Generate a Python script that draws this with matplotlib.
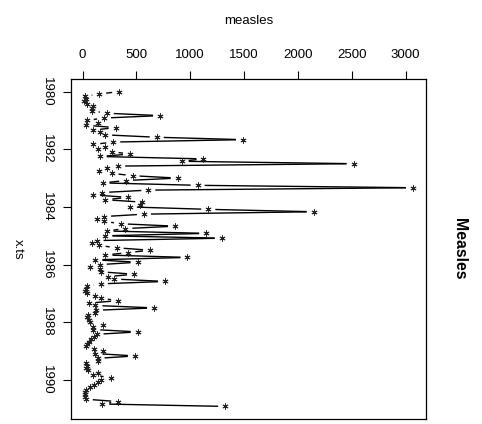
import matplotlib
matplotlib.use('Agg')
import numpy as np
import matplotlib.pyplot as plt

# monthly measles counts, Jan 1980 .. Dec 1990
measles = [
    340, 155, 20, 30, 15, 45, 100, 90, 85, 225, 720, 200,
    40, 145, 35, 307, 100, 160, 210, 689, 1490, 285, 100, 205,
    145, 270, 440, 160, 1123, 921, 2517, 331, 223, 155, 270, 465,
    883, 405, 186, 1069, 3068, 611, 183, 99, 424, 213, 555, 530,
    440, 1168, 2147, 570, 200, 130, 201, 356, 859, 398, 223, 1148,
    213, 1293, 130, 84, 150, 317, 626, 425, 213, 974, 120, 511,
    160, 68, 160, 170, 478, 232, 294, 766, 170, 40, 30, 25,
    40, 120, 170, 330, 60, 120, 664, 125, 120, 50, 40, 60,
    70, 190, 100, 100, 512, 130, 110, 80, 60, 40, 30, 110,
    190, 120, 486, 140, 140, 30, 40, 30, 50, 145, 100, 260,
    170, 145, 108, 68, 30, 25, 25, 25, 30, 331, 183, 1325,
]
start_year = 1980
year_ticks = [1980, 1982, 1984, 1986, 1988, 1990]
value_ticks = [0, 500, 1000, 1500, 2000, 2500, 3000]

plt.rcParams['font.family'] = ['Liberation Sans', 'DejaVu Sans']

x = np.asarray(measles, dtype=float)
t = start_year + np.arange(len(x)) / 12.0


def padded(lo, hi, frac=0.04):
    r = hi - lo
    return lo - frac * r, hi + frac * r


W, H = 482, 424
fig = plt.figure(figsize=(W / 100, H / 100), dpi=100)
ax = fig.add_axes([71 / W, 5 / H, 355 / W, 340 / H])

ax.set_xlim(*padded(x.min(), x.max()))
ylo, yhi = padded(t.min(), t.max())
ax.set_ylim(yhi, ylo)

# points joined by lines that stop short of each symbol
pts = ax.transData.transform(np.column_stack([x, t]))
inv = ax.transData.inverted()
gap = 7.0
for p0, p1 in zip(pts[:-1], pts[1:]):
    d = p1 - p0
    L = np.hypot(d[0], d[1])
    if L <= 2 * gap:
        continue
    u = d / L
    a = inv.transform(p0 + u * gap)
    b = inv.transform(p1 - u * gap)
    ax.plot([a[0], b[0]], [a[1], b[1]], color='black', lw=1.0,
            solid_capstyle='butt')
ax.plot(x, t, linestyle='none', marker=(6, 2, 0), ms=4.3, mew=0.65,
        color='#222222')

ax.xaxis.tick_top()
ax.set_xticks(value_ticks)
ax.set_yticks(year_ticks)
ax.tick_params(axis='both', length=5.8, width=0.8, labelsize=9.5,
               colors='black')
ax.tick_params(axis='x', pad=7)
ax.tick_params(axis='y', pad=7)
for lbl in ax.get_yticklabels():
    lbl.set_rotation(-90)
    lbl.set_va('center')
for s in ax.spines.values():
    s.set_linewidth(0.9)

fig.text(248.5 / W, 1 - 21 / H, 'measles', ha='center', va='center',
         fontsize=9.5)
fig.text(18 / W, 1 - 249 / H, 'x.ts', rotation=-90, ha='center',
         va='center', fontsize=9.5)
fig.text(460 / W, 1 - 249 / H, 'Measles', rotation=-90, ha='center',
         va='center', fontsize=11.4, fontweight='bold')

fig.savefig('out.png', dpi=100)
